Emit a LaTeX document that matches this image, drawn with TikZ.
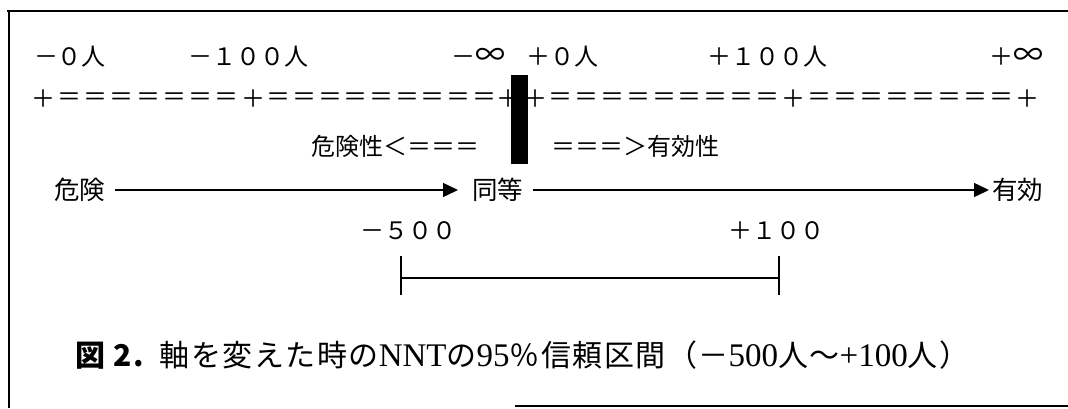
\documentclass[tikz,border=0pt]{standalone}
\usepackage{fontspec}
\newfontfamily\jp{Noto Sans CJK JP}
\newfontfamily\jpcap[LetterSpace=5]{Noto Sans CJK JP}
\newfontfamily\lat{Liberation Serif}
\newcommand{\capl}[1]{{\lat\fontsize{33}{33}\selectfont #1}}
\usetikzlibrary{arrows.meta}
\begin{document}
\begin{tikzpicture}[x=1pt,y=-1pt,
  lbl/.style={inner sep=0pt, font=\jp\fontsize{24}{26}\selectfont},
  big/.style={inner sep=0pt, font=\jp\fontsize{25.5}{27}\selectfont},
  eqc/.style={inner sep=0pt, font=\jp\fontsize{24}{26}\selectfont},
  framel/.style={line width=2pt},
  arr/.style={line width=1.4pt, -{Triangle[length=15pt,width=14pt]}},
  brk/.style={line width=1.5pt},
  captext/.style={inner sep=0pt, anchor=west, font=\jpcap\fontsize{30}{32}\selectfont}]
\useasboundingbox (0,0) rectangle (1068,408);
% frame
\draw[framel] (7,11) -- (1068,11);
\draw[framel] (9,11) -- (9,408);
\draw[framel] (515,406) -- (1068,406);
% row 1
\node[lbl] (l0) at (70,57) {－０人};
\node[lbl] (l100) at (248,57) {－１００人};
\node[lbl, anchor=east] (linf) at (506,57) {－{\fontsize{30}{30}\selectfont ∞}};
\node[lbl, anchor=west] (r0) at (526,57) {＋０人};
\node[lbl] (r100) at (767,57) {＋１００人};
\node[lbl] (rinf) at (1016,57) {＋{\fontsize{30}{30}\selectfont ∞}};
% row 2
\node[eqc] (pa) at (43,99) {＋};
\foreach \i in {1,...,7} \node[eqc] (ea\i) at ({43+\i*26.25},99) {＝};
\node[eqc] (pb) at (253,99) {＋};
\foreach \i in {1,...,9} \node[eqc] (eb\i) at ({253+\i*25.7},99) {＝};
\node[eqc] (pc) at (508,99) {＋};
\node[eqc] (pd) at (535,99) {＋};
\foreach \i in {1,...,9} \node[eqc] (ec\i) at ({535+\i*25.8},99) {＝};
\node[eqc] (pe) at (793,99) {＋};
\foreach \i in {1,...,8} \node[eqc] (ed\i) at ({793+\i*26},99) {＝};
\node[eqc] (pf) at (1027,99) {＋};
% bar
\fill[black] (511,75) rectangle (528,164);
% row 3
\node[lbl, anchor=east] (kikensei) at (480,146) {危険性＜＝＝＝};
\node[lbl, anchor=west] (yuukousei) at (551,146) {＝＝＝＞有効性};
% row 4
\node[big, anchor=west] (kiken) at (54,190) {危険};
\node[big, anchor=west] (doutou) at (472,190) {同等};
\node[big, anchor=west] (yuukou) at (992,190) {有効};
\draw[arr, shorten <=10pt, shorten >=14pt] (kiken.east) -- (doutou.west);
\draw[arr, shorten <=10pt, shorten >=3pt] (doutou.east) -- (yuukou.west);
% interval
\node[lbl] (m500) at (408,231) {－５００};
\node[lbl] (p100) at (776,231) {＋１００};
\coordinate (bl) at (401,278);
\coordinate (br) at (779,278);
\draw[brk] (bl) -- (br);
\draw[brk] ([yshift=-17pt]bl) -- ([yshift=22pt]bl);
\draw[brk] ([yshift=-17pt]br) -- ([yshift=22pt]br);
% caption
\node[captext] (caption) at (75,355) {{\bfseries 図 2.}\, 軸を変えた時の\capl{NNT}の\capl{95}％信頼区間（－\capl{500}人〜\capl{+100}人）};
\end{tikzpicture}
\end{document}
